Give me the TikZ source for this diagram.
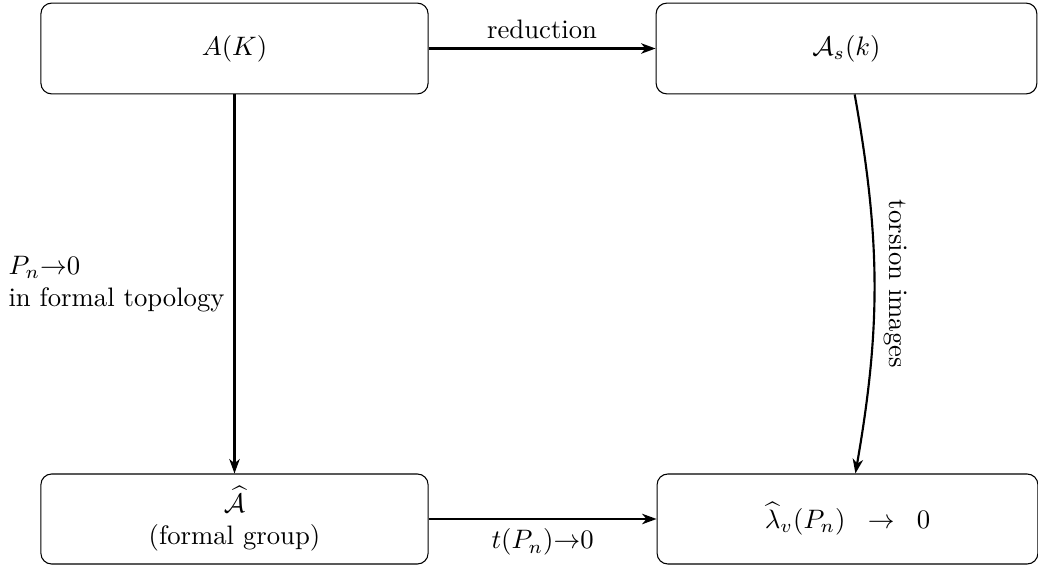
\documentclass[tikz,border=0pt]{standalone}
\usepackage{amsmath,amssymb}
\usetikzlibrary{arrows.meta}
\begin{document}
\begin{tikzpicture}[x=0.3745pt,y=-0.3745pt,
  boxnode/.style={draw,rounded corners=4pt,line width=0.4pt,inner sep=0pt,align=center},
  conn/.style={line width=0.8pt,-{Stealth[length=5.4pt,width=3.9pt,inset=1.6pt]}},
  lbl/.style={font=\normalsize}]
\useasboundingbox (0,0) rectangle (1038,571);
\node[boxnode,minimum width=145pt,minimum height=34pt] (AK) at (234.5,48.5) {$A(K)$};
\node[boxnode,minimum width=142.6pt,minimum height=34pt] (As) at (846.5,48.5) {$\mathcal{A}_s(k)$};
\node[boxnode,minimum width=145pt,minimum height=33.7pt] (BL) at (234.5,519) {$\widehat{\mathcal{A}}$\\(formal group)};
\node[boxnode,minimum width=142.6pt,minimum height=33.7pt] (BR) at (847.5,519) {$\widehat{\lambda}_v(P_n)\;\;\to\;\;0$};
\draw[conn] (AK) -- node[midway,above,lbl] (lr) {reduction} (As);
\draw[conn] (AK) -- node[midway,left,align=left,lbl] (lp) {$P_n{\to}0$\\in formal topology} (BL);
\draw[conn] (As) to[bend left=10] node[midway,anchor=south,rotate=-90,lbl] (lt) {torsion images} (BR);
\draw[conn] (BL) -- node[midway,below,lbl] (lb) {$t(P_n){\to}0$} (BR);
\end{tikzpicture}
\end{document}
